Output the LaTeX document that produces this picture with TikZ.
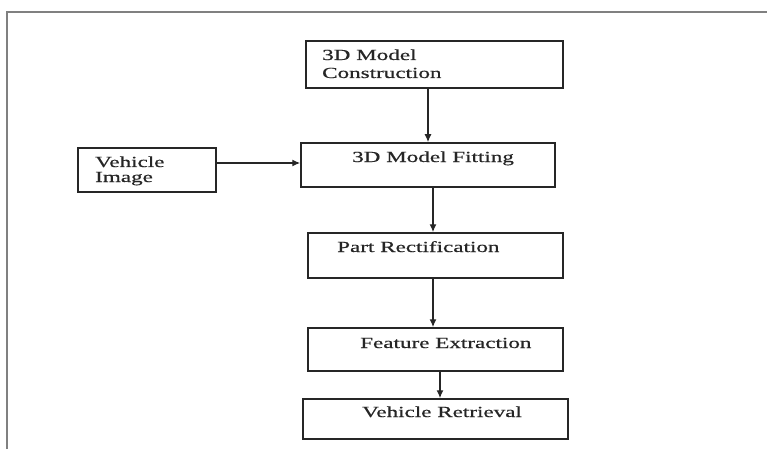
\documentclass[tikz,border=0pt]{standalone}
\usepackage{fontspec}
\setmainfont[FakeStretch=1.5,FakeBold=0.6]{Liberation Serif}
\usetikzlibrary{arrows.meta}
\begin{document}
\begin{tikzpicture}[x=1pt,y=-1pt,
  box/.style={draw=black!85, line width=1.5pt, rectangle, inner sep=0pt},
  txt/.style={anchor=base west, inner sep=0pt, text=black!85, font=\fontsize{15.4}{18}\selectfont},
  arr/.style={draw=black!85, line width=1.4pt, -{Latex[length=8pt,width=7pt]}},
  frame/.style={draw=black!50, line width=1.8pt}]
\useasboundingbox (0,0) rectangle (767,449);
\coordinate (f1) at (7,449);
\coordinate (f2) at (7,12);
\coordinate (f3) at (767,12);
\draw[frame] (f1) -- (f2) -- (f3);

\node[box, minimum width=257pt, minimum height=47pt] (con) at (434.5,64.5) {};
\node[box, minimum width=254pt, minimum height=44pt] (fit) at (428,165) {};
\node[box, minimum width=138pt, minimum height=44pt] (veh) at (147,170) {};
\node[box, minimum width=255pt, minimum height=45pt] (part) at (435.5,255.5) {};
\node[box, minimum width=255pt, minimum height=43pt] (feat) at (435.5,349.5) {};
\node[box, minimum width=265pt, minimum height=40pt] (ret) at (435.5,419) {};

\node[txt] (t1) at (322,60) {3D Model};
\node[txt] (t2) at (322,78) {Construction};
\node[txt] (t3) at (352,162) {3D Model Fitting};
\node[txt] (t4) at (95,167) {Vehicle};
\node[txt] (t5) at (95,182) {Image};
\node[txt] (t6) at (337,252) {Part Rectification};
\node[txt] (t7) at (360,348) {Feature Extraction};
\node[txt] (t8) at (362,417) {Vehicle Retrieval};

\draw[arr] (428,0 |- con.south) -- (428,0 |- fit.north);
\draw[arr] (veh.east |- 0,163) -- (fit.west |- 0,163);
\draw[arr] (433,0 |- fit.south) -- (433,0 |- part.north);
\draw[arr] (433,0 |- part.south) -- (433,0 |- feat.north);
\draw[arr] (440,0 |- feat.south) -- (440,0 |- ret.north);
\end{tikzpicture}
\end{document}
